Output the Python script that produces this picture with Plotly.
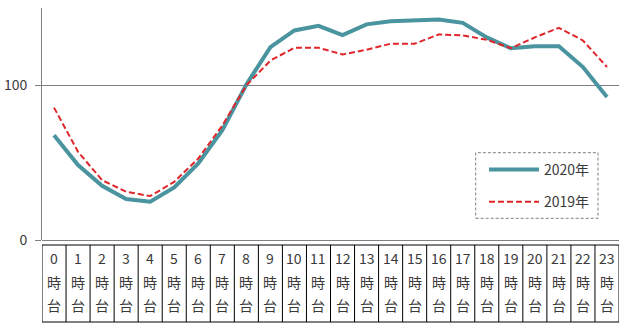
import plotly.graph_objects as go

hours = list(range(24))
hour_numbers = [str(h) for h in hours]
row2 = "時"
row3 = "台"
y2020 = [67.7, 48.5, 35, 26.5, 24.7, 34, 49.5, 71, 100.5, 124.7, 135.5, 138.5, 132.5, 139.4,
         141.5, 142, 142.6, 140.4, 131, 124, 125.2, 125.2, 111.8, 92.5]
y2019 = [85.6, 57, 38.7, 31.2, 28.4, 37.6, 52.7, 74, 100, 116, 124.3, 124.3, 120, 123,
         126.9, 126.9, 132.9, 132.3, 129.5, 124, 131, 137.2, 129, 111.8]
y_ticks = [0, 100]

FONT = "Noto Sans CJK JP, Noto Sans, sans-serif"
TEAL = "#4A949F"
RED = "#E0262B"

fig = go.Figure()
fig.add_trace(go.Scatter(x=hours, y=y2020, mode="lines", name="2020年",
                         line=dict(color=TEAL, width=4), legendgroup="a"))
fig.add_trace(go.Scatter(x=hours, y=y2019, mode="lines", name="2019年",
                         line=dict(color=RED, width=2, dash="6px,3px"), legendgroup="b"))

# plot area: x 42..619 px, y 8..240 px
def py(p):
    return (240 - p) / 232.0

def px(p):
    return (p - 42) / 577.0

shapes = []
top, bot = py(245), py(322)
for i in range(25):
    shapes.append(dict(type="line", xref="x", yref="paper", x0=i - 0.5, x1=i - 0.5,
                       y0=top, y1=bot, line=dict(color="#000000", width=1)))
for yy in (top, bot):
    shapes.append(dict(type="line", xref="x", yref="paper", x0=-0.5, x1=23.5,
                       y0=yy, y1=yy, line=dict(color="#000000", width=1)))
# legend dashed frame
shapes.append(dict(type="rect", xref="paper", yref="paper", x0=px(475.7), x1=px(598),
                   y0=py(218.3), y1=py(152.7),
                   line=dict(color="#808080", width=1, dash="3px,2px")))

annotations = []
for i, h in enumerate(hours):
    for txt, yp in ((hour_numbers[i], 258), (row2, 282), (row3, 305)):
        annotations.append(dict(x=h, y=py(yp), xref="x", yref="paper", text=txt,
                                showarrow=False, xanchor="center", yanchor="middle",
                                font=dict(family=FONT, size=14, color="#3a3a3a")))

fig.update_layout(
    width=620, height=326,
    margin=dict(l=42, r=1, t=8, b=86, pad=0),
    paper_bgcolor="white", plot_bgcolor="white",
    font=dict(family=FONT, size=14, color="#3a3a3a"),
    showlegend=True,
    legend=dict(x=px(484), y=py(154), xanchor="left", yanchor="top",
                bgcolor="rgba(0,0,0,0)", borderwidth=0, tracegroupgap=11,
                itemwidth=50,
                font=dict(family=FONT, size=14, color="#3a3a3a")),
    xaxis=dict(range=[-0.5, 23.5], showticklabels=False, ticks="", showgrid=False,
               showline=False, zeroline=False, fixedrange=True),
    yaxis=dict(range=[0, 150], tickvals=y_ticks, ticktext=[str(v) for v in y_ticks],
               ticks="outside", ticklen=6, tickcolor="#808080", showgrid=True,
               gridcolor="#808080", gridwidth=1, showline=True, linecolor="#808080",
               linewidth=1, zeroline=True, zerolinecolor="#808080", zerolinewidth=1,
               ticklabelstandoff=5,
               tickfont=dict(family=FONT, size=14, color="#3a3a3a"), fixedrange=True),
    shapes=shapes, annotations=annotations,
)
fig.write_html("out.html")
